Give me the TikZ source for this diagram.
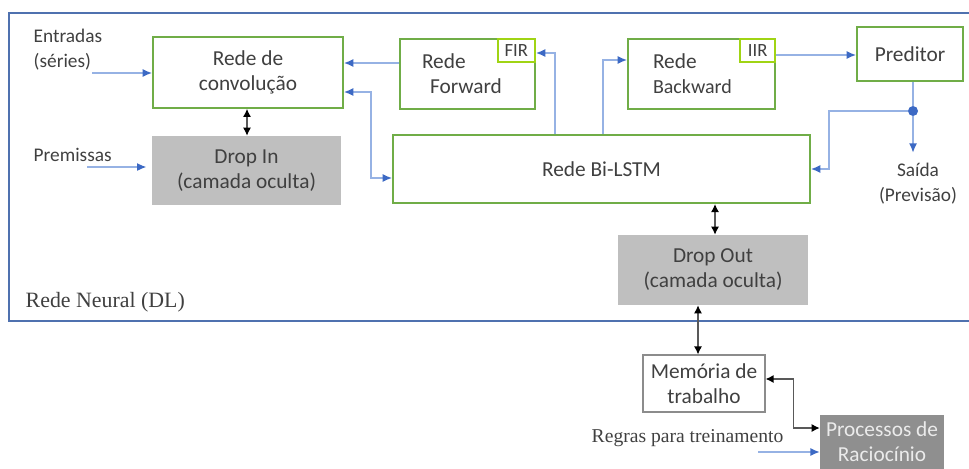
\documentclass[tikz,border=0pt]{standalone}
\usepackage{fontspec}
\setmainfont{Liberation Serif}
\newfontfamily\calibfont{Carlito}
\usepackage{tikz}
\usetikzlibrary{positioning,arrows.meta}

\definecolor{boxgreen}{RGB}{112,173,71}
\definecolor{limegreen}{RGB}{160,212,20}
\definecolor{frameblue}{RGB}{79,113,175}
\definecolor{lineblue}{RGB}{150,178,228}
\definecolor{headblue}{RGB}{60,105,196}
\definecolor{txtgray}{RGB}{64,64,64}
\definecolor{hidgray}{RGB}{191,191,191}
\definecolor{procgray}{RGB}{143,143,143}

\tikzset{
	boxfont/.style={font=\calibfont\fontsize{16}{18.75}\selectfont},
	net/.style={draw=boxgreen, line width=1.5pt, fill=white, text=txtgray, align=center, boxfont},
	tag/.style={draw=limegreen, line width=1.5pt, fill=white, text=txtgray, inner sep=1pt, anchor=north east,
		minimum width=28pt, minimum height=17.5pt, font=\calibfont\fontsize{14}{15}\selectfont},
	hidden/.style={fill=hidgray, text=txtgray, align=center, boxfont},
	plain/.style={text=txtgray, font=\calibfont\fontsize{14.5}{18.75}\selectfont},
	blu/.style={draw=lineblue, line width=1pt, -{Latex[length=7pt,width=6pt,color=headblue]}},
	bluboth/.style={draw=lineblue, line width=1pt, {Latex[length=7pt,width=6pt,color=headblue]}-{Latex[length=7pt,width=6pt,color=headblue]}},
	blk/.style={draw=black!65, line width=1pt, {Latex[length=6pt,width=6pt,color=black]}-{Latex[length=6pt,width=6pt,color=black]}},
}

\begin{document}
\begin{tikzpicture}[x=0.75pt, y=-0.75pt]
	\useasboundingbox (0,0) rectangle (969,468);
	% frame of the neural network
	\draw[frameblue, line width=1.8pt] (9,13) rectangle (1000,321);
	\node[anchor=west, text=txtgray, font=\fontsize{16.4}{19}\selectfont] (DL) at (21,302) {Rede Neural (DL)};

	% boxes
	\node[net, minimum width=142.5pt, minimum height=53pt] (Conv) at (248,72.5) {Rede de\\convolução};
	\node[hidden, minimum width=141.75pt, minimum height=51.75pt] (DropIn) at (246.5,170.5) {Drop In\\(camada oculta)};
	\node[net, align=left, text width=68.25pt, inner xsep=16.5pt, minimum height=52.5pt] (Fwd) at (467.5,74) {Rede\\\hspace*{6pt}Forward};
	\node[tag] (FIR) at (Fwd.north east) {FIR};
	\node[net, align=left, text width=72.75pt, inner xsep=18.75pt, minimum height=52.5pt] (Bwd) at (701.5,74) {Rede\\{\fontsize{15}{18.75}\selectfont Backward}};
	\node[tag, minimum width=26pt] (IIR) at (Bwd.north east) {IIR};
	\node[net, minimum width=79.5pt, minimum height=40.5pt] (Pred) at (910,54) {Preditor};
	\node[net, minimum width=312.75pt, minimum height=51pt] (BiLSTM) at (601.5,169) {Rede Bi-LSTM};
	\node[hidden, minimum width=142.5pt, minimum height=52.5pt] (DropOut) at (713,270) {Drop Out\\(camada oculta)};
	\node[draw=black!45, line width=0.8pt, align=center, text=txtgray, boxfont, minimum width=91.5pt, minimum height=42.75pt] (Mem) at (704,383.5) {Memória de\\trabalho};
	\node[fill=procgray, text=black!8, align=center, boxfont, minimum width=93pt, minimum height=41pt] (Proc) at (882,442) {Processos de\\Raciocínio};

	% free labels
	\node[plain, align=left, anchor=west] (Ent) at (29,49.5) {Entradas\\(séries)};
	\node[plain, anchor=west] (Prem) at (29,155) {Premissas};
	\node[plain, align=center, anchor=north] (Saida) at (918,158) {Saída\\(Previsão)};
	\node[text=txtgray, anchor=east, font=\fontsize{14.7}{17}\selectfont] (Regras) at (788,438) {Regras para treinamento};

	\coordinate (inE) at (92,73);
	\coordinate (inP) at (87,167);
	\coordinate (inR) at (758,452);
	\node[circle, fill=headblue, inner sep=0pt, minimum size=7.5pt] (Dot) at (913,111) {};

	% connectors
	\draw[blu] (inE) -- (inE -| Conv.west);
	\draw[blu, shorten >=4pt] (inP) -- (inP -| DropIn.west);
	\draw[blu] (Fwd.west |- {(0,63)}) -- (Conv.east |- {(0,63)});
	\draw[bluboth] (Conv.east |- {(0,92)}) -- ++(27,0) |- (BiLSTM.west |- {(0,178)});
	\draw[blu] (BiLSTM.north -| {(555,0)}) |- (FIR.east |- {(0,53)});
	\draw[blu] (BiLSTM.north -| {(603,0)}) |- (Bwd.west |- {(0,60)});
	\draw[blu] (Bwd.east |- {(0,55)}) -- (Pred.west |- {(0,55)});
	\draw[draw=lineblue, line width=1pt] (Pred.south -| Dot) -- (Dot);
	\draw[blu, shorten >=4pt] (Dot) -- (Saida.north -| Dot);
	\draw[blu] (Dot) -- ++(-84,0) |- (BiLSTM.east);
	\draw[blk] (Conv.south -| {(247,0)}) -- (DropIn.north -| {(247,0)});
	\draw[blk] (BiLSTM.south -| {(715,0)}) -- (DropOut.north -| {(715,0)});
	\draw[blk] (DropOut.south -| {(698,0)}) -- (Mem.north -| {(698,0)});
	\draw[blk] (Mem.east |- {(0,379)}) -- ++(28,0) |- (Proc.west |- {(0,428)});
	\draw[blu] (inR) -- (inR -| Proc.west);
\end{tikzpicture}
\end{document}
